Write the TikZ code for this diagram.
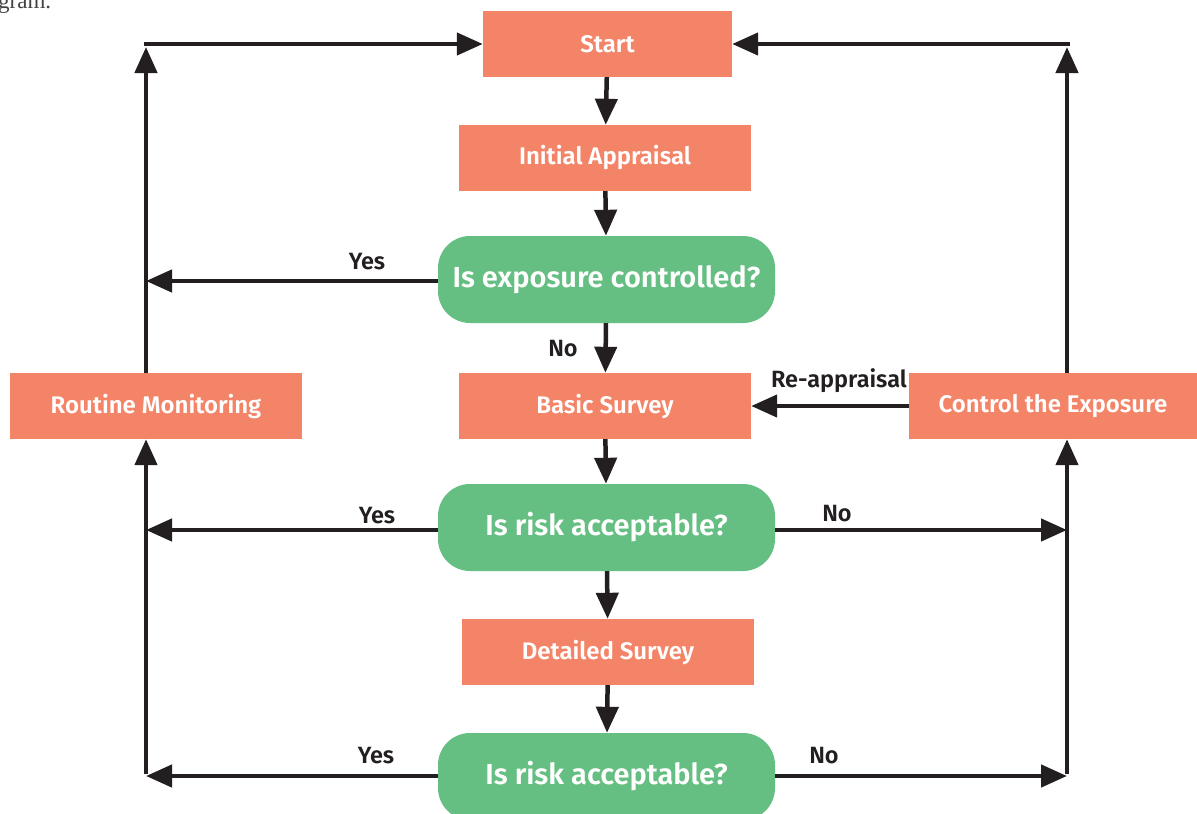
\documentclass[tikz,border=0pt]{standalone}
\usepackage{fontspec}
\setmainfont{Fira Sans}[BoldFont={Fira Sans SemiBold}]
\newfontfamily\captionserif{Liberation Serif}
\usetikzlibrary{arrows.meta}

\definecolor{boxsalmon}{HTML}{F38467}
\definecolor{decgreen}{HTML}{66BF82}
\definecolor{inkdark}{HTML}{231F20}

\tikzset{
  stepbox/.style={rectangle, fill=boxsalmon, text=white, inner sep=0pt,
    minimum height=66pt, font=\bfseries\fontsize{24}{28}\selectfont},
  decision/.style={rectangle, rounded corners=32pt, fill=decgreen, text=white,
    inner sep=0pt, minimum width=337pt, minimum height=87pt,
    font=\bfseries\fontsize{29}{33}\selectfont},
  flow/.style={draw=inkdark, line width=4.5pt,
    -{Triangle[length=26pt,width=22pt]}},
  plainline/.style={draw=inkdark, line width=4.5pt},
  edgelabel/.style={text=inkdark, font=\bfseries\fontsize{23.5}{27}\selectfont, inner sep=0pt}
}

\begin{document}
\begin{tikzpicture}[x=1pt, y=-1pt]
  \clip (0,0) rectangle (1197,814);
  \fill[white] (0,0) rectangle (1197,814);

  % fragment of the preceding caption line
  \node[anchor=base west, inner sep=0pt, text=inkdark!85,
        font=\captionserif\fontsize{23}{28}\selectfont] (captext) at (-2,8) {gram.};

  % process boxes
  \node[stepbox, minimum width=249pt] (start)   at (607.5,44)  {Start};
  \node[stepbox, minimum width=292pt] (initial) at (605,158)   {Initial Appraisal};
  \node[decision] (exposed) at (606.5,279.5) {Is exposure controlled?};
  \node[stepbox, minimum width=292pt] (basic)   at (605,406)   {Basic Survey};
  \node[stepbox, minimum width=292pt] (routine) at (156,406)   {Routine Monitoring};
  \node[stepbox, minimum width=288pt] (control) at (1053,406)  {Control the Exposure};
  \node[decision] (riskA) at (606.5,527.5) {Is risk acceptable?};
  \node[stepbox, minimum width=292pt] (detailed) at (608,652)  {Detailed Survey};
  \node[decision] (riskB) at (606.5,776.5) {Is risk acceptable?};

  % corner points of the two feedback loops
  \coordinate (leftTop)  at (146,44);
  \coordinate (rightTop) at (1067,44);
  \coordinate (leftA)  at (146,281);
  \coordinate (leftB)  at (146,530);
  \coordinate (leftC)  at (146,776);
  \coordinate (rightB) at (1067,530);
  \coordinate (rightC) at (1067,776);

  % main column
  \draw[flow] (start) -- (initial);
  \draw[flow] (initial) -- (exposed);
  \draw[flow] (exposed) -- (basic);
  \draw[flow] (basic) -- (riskA);
  \draw[flow] (riskA) -- (detailed);
  \draw[flow] (detailed) -- (riskB);

  % left loop: routine monitoring back to start
  \draw[flow] (routine.north -| leftTop) -- ([yshift=-3pt]leftTop);
  \draw[flow] ([xshift=-2pt]leftTop) -- (start.west);
  \draw[flow] (exposed.west |- leftA) -- (leftA);
  \draw[flow] (riskA.west |- leftB) -- (leftB);
  \draw[flow] (riskB.west |- leftC) -- (leftC);
  \draw[plainline] ([yshift=2pt]leftC) -- (leftB);
  \draw[flow] (leftB) -- (routine.south -| leftC);

  % right loop: control the exposure back to start
  \draw[flow] (control.north -| rightTop) -- ([yshift=-3pt]rightTop);
  \draw[flow] ([xshift=3pt]rightTop) -- (start.east);
  \draw[flow] (riskA.east |- rightB) -- (rightB);
  \draw[flow] (riskB.east |- rightC) -- (rightC);
  \draw[plainline] ([yshift=2pt]rightC) -- (rightB);
  \draw[flow] (rightB) -- (control.south -| rightC);

  % re-appraisal
  \draw[flow] (control.west) -- (basic.east);

  % labels
  \node[edgelabel] (yesA) at (367,262) {Yes};
  \node[edgelabel] (noA)  at (563,349) {No};
  \node[edgelabel, anchor=east] (reapp) at (907,381) {Re-appraisal};
  \node[edgelabel] (yesB) at (377,516) {Yes};
  \node[edgelabel] (noB)  at (837,514) {No};
  \node[edgelabel] (yesC) at (376,756) {Yes};
  \node[edgelabel] (noC)  at (824,756) {No};
\end{tikzpicture}
\end{document}
